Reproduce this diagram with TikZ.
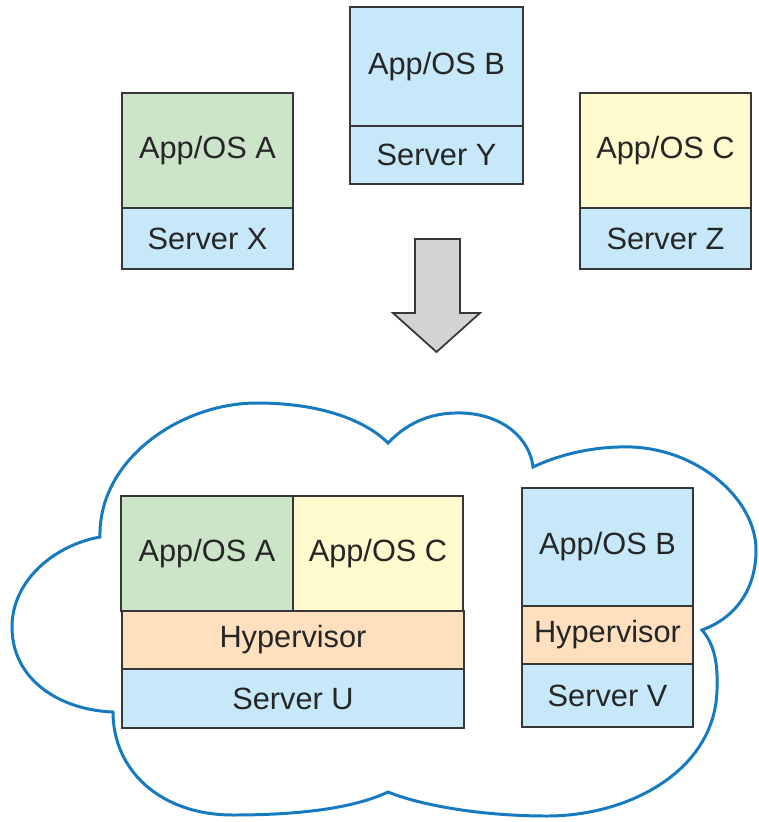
\documentclass[tikz,border=0pt]{standalone}
\usepackage{fontspec}
\setmainfont{Liberation Sans}
\usetikzlibrary{positioning}
\definecolor{appgreen}{RGB}{204,229,201}
\definecolor{appblue}{RGB}{198,232,248}
\definecolor{appyellow}{RGB}{255,249,206}
\definecolor{hyporange}{RGB}{255,224,190}
\definecolor{arrowgray}{RGB}{210,211,213}
\definecolor{cloudblue}{RGB}{22,122,192}
\definecolor{edgegray}{RGB}{55,55,55}
\tikzset{
  layer/.style={draw=edgegray, line width=1.1pt, inner sep=0pt, outer sep=0pt,
    text=black!85, font=\fontsize{17.5}{20}\selectfont},
  green layer/.style={layer, fill=appgreen},
  blue layer/.style={layer, fill=appblue},
  yellow layer/.style={layer, fill=appyellow},
  hyp layer/.style={layer, fill=hyporange}
}
\begin{document}
\begin{tikzpicture}[x=0.02cm, y=-0.02cm]
\useasboundingbox (0,0) rectangle (758,822);
% cloud
\draw[cloudblue, line width=1.7pt] (100,537)
  .. controls (98,460) and (180,403) .. (257,403)
  .. controls (320,403) and (365,420) .. (388,443)
  .. controls (410,420) and (435,412) .. (463,413)
  .. controls (505,415) and (530,440) .. (533,467)
  .. controls (565,452) and (600,446) .. (632,447)
  .. controls (700,450) and (756,500) .. (756,550)
  .. controls (756,590) and (735,618) .. (702,630)
  .. controls (715,645) and (718,665) .. (717,690)
  .. controls (715,770) and (630,816) .. (547,816)
  .. controls (480,816) and (420,805) .. (388,792)
  .. controls (350,810) and (290,815) .. (233,815)
  .. controls (160,815) and (113,770) .. (113,712)
  .. controls (60,710) and (12,680) .. (12,627)
  .. controls (12,580) and (55,545) .. (100,537) -- cycle;
% three servers before
\node[green layer, minimum width=3.42cm, minimum height=2.30cm] (appX) at (207.5,150.5) {App/OS A};
\node[blue layer, minimum width=3.42cm, minimum height=1.22cm, below=0pt of appX] (srvX) {Server X};
\node[blue layer, minimum width=3.46cm, minimum height=2.38cm] (appY) at (436.5,66.5) {App/OS B};
\node[blue layer, minimum width=3.46cm, minimum height=1.16cm, below=0pt of appY] (srvY) {Server Y};
\node[yellow layer, minimum width=3.42cm, minimum height=2.30cm] (appZ) at (665.5,150.5) {App/OS C};
\node[blue layer, minimum width=3.42cm, minimum height=1.22cm, below=0pt of appZ] (srvZ) {Server Z};
% arrow
\draw[draw=edgegray, fill=arrowgray, line width=1pt] (415,239) -- (460,239) -- (460,313)
  -- (480,313) -- (436.5,352) -- (393,313) -- (415,313) -- cycle;
% consolidated servers
\node[green layer, minimum width=3.44cm, minimum height=2.30cm] (appUA) at (207,553.5) {App/OS A};
\node[yellow layer, minimum width=3.40cm, minimum height=2.30cm, right=0pt of appUA] (appUC) {App/OS C};
\node[hyp layer, minimum width=6.84cm, minimum height=1.16cm, below=0pt of appUA.south east] (hypU) {Hypervisor};
\node[blue layer, minimum width=6.84cm, minimum height=1.18cm, below=0pt of hypU] (srvU) {Server U};
\node[blue layer, minimum width=3.42cm, minimum height=2.36cm] (appVB) at (607.5,547) {App/OS B};
\node[hyp layer, minimum width=3.42cm, minimum height=1.16cm, below=0pt of appVB] (hypV) {Hypervisor};
\node[blue layer, minimum width=3.42cm, minimum height=1.26cm, below=0pt of hypV] (srvV) {Server V};
\end{tikzpicture}
\end{document}
